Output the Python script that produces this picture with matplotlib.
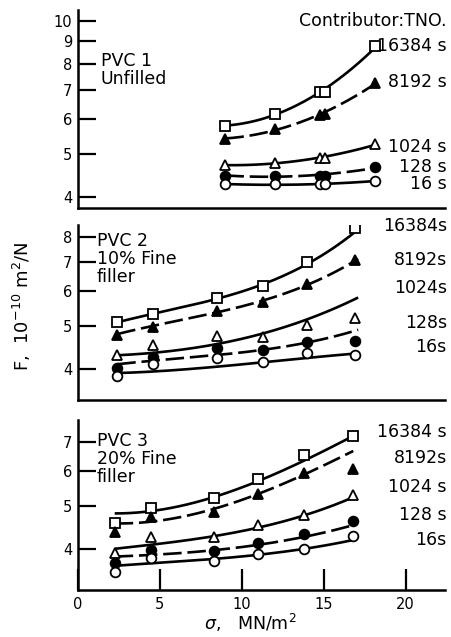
import numpy as np
import matplotlib
matplotlib.use("Agg")
import matplotlib.pyplot as plt
from matplotlib.ticker import FixedLocator, NullLocator

plt.rcParams['font.family'] = ['DejaVu Sans']

# ---- data: creep compliance F (1e-10 m^2/N) vs stress sigma (MN/m^2) ----
times = ["16384", "8192", "1024", "128", "16"]

# PVC 1, unfilled
p1_sigma = [9.0, 12.0, 14.8, 15.1, 18.1]
p1_16384 = [5.79, 6.16, 6.90, 6.90, 8.77]
p1_8192 = [5.41, 5.70, 6.13, 6.16, 7.26]
p1_1024 = [4.72, 4.77, 4.90, 4.90, 5.27]
p1_128 = [4.47, 4.47, 4.47, 4.47, 4.68]
p1_16 = [4.28, 4.28, 4.28, 4.28, 4.36]
p1_curve_sigma = [9.0, 12.0, 15.0, 18.1]
p1_curve_16384 = [5.79, 6.18, 6.95, 8.70]
p1_curve_8192 = [5.41, 5.72, 6.15, 7.22]
p1_curve_1024 = [4.72, 4.78, 4.92, 5.25]
p1_curve_128 = [4.47, 4.47, 4.48, 4.66]
p1_curve_16 = [4.28, 4.27, 4.28, 4.35]

# PVC 2, 10% fine filler
p2_sigma = [2.4, 4.55, 8.5, 11.3, 14.0, 16.9]
p2_16384 = [5.10, 5.33, 5.80, 6.16, 7.02, 8.36]
p2_8192 = [4.76, 4.98, 5.42, 5.69, 6.24, 7.09]
p2_1024 = [4.29, 4.53, 4.74, 4.72, 5.02, 5.22]
p2_128 = [4.01, 4.26, 4.45, 4.40, 4.59, 4.62]
p2_16 = [3.84, 4.09, 4.22, 4.15, 4.34, 4.29]
p2_curve_sigma = [2.4, 4.55, 8.5, 11.3, 14.0, 17.1]
p2_curve_16384 = [5.10, 5.33, 5.80, 6.18, 6.98, 8.30]
p2_curve_8192 = [4.80, 4.99, 5.40, 5.70, 6.22, 7.12]
p2_curve_1024 = [4.29, 4.34, 4.56, 4.80, 5.19, 5.81]
p2_curve_128 = [4.09, 4.17, 4.30, 4.40, 4.60, 4.90]
p2_curve_16 = [3.90, 3.95, 4.03, 4.13, 4.24, 4.33]

# PVC 3, 20% fine filler
p3_sigma = [2.24, 4.43, 8.33, 11.0, 13.8, 16.8]
p3_16384 = [4.59, 4.95, 5.21, 5.75, 6.53, 7.21]
p3_8192 = [4.36, 4.72, 4.85, 5.32, 5.95, 6.08]
p3_1024 = [3.91, 4.25, 4.25, 4.53, 4.78, 5.31]
p3_128 = [3.72, 3.97, 3.96, 4.13, 4.32, 4.62]
p3_16 = [3.54, 3.81, 3.76, 3.90, 4.01, 4.28]
p3_curve_sigma = [2.24, 4.43, 8.33, 11.0, 13.8, 16.8]
p3_curve_16384 = [4.79, 4.93, 5.21, 5.67, 6.41, 7.19]
p3_curve_8192 = [4.54, 4.68, 4.89, 5.29, 5.98, 6.64]
p3_curve_1024 = [4.00, 4.10, 4.26, 4.49, 4.76, 5.24]
p3_curve_128 = [3.84, 3.89, 3.96, 4.10, 4.26, 4.53]
p3_curve_16 = [3.66, 3.72, 3.79, 3.88, 4.01, 4.19]

# ---- styles ----
marker_style = {
    "16384": dict(marker="s", mfc="white", mec="black"),
    "8192": dict(marker="^", mfc="black", mec="black"),
    "1024": dict(marker="^", mfc="white", mec="black"),
    "128": dict(marker="o", mfc="black", mec="black"),
    "16": dict(marker="o", mfc="white", mec="black"),
}
line_style = {
    "16384": "-",
    "8192": (0, (7, 2.2)),
    "1024": "-",
    "128": (0, (7, 2.2)),
    "16": "-",
}

fig = plt.figure(figsize=(4.52, 6.37), dpi=100)
W, H = 452.0, 637.0


def make_axes(left_px, right_px, top_px, bottom_px):
    return fig.add_axes([left_px / W, 1 - bottom_px / H,
                         (right_px - left_px) / W, (bottom_px - top_px) / H])


panels = [
    dict(ax=make_axes(78, 445, 10, 208), ylim=(3.78, 10.59),
         yticks=[4, 5, 6, 7, 8, 9, 10],
         sigma=p1_sigma, vals=[p1_16384, p1_8192, p1_1024, p1_128, p1_16],
         csig=p1_curve_sigma,
         curves=[p1_curve_16384, p1_curve_8192, p1_curve_1024, p1_curve_128, p1_curve_16],
         deg=2,
         labels=["16384 s", "8192 s", "1024 s", "128 s", "16 s"],
         label_y=[0.818, 0.636, 0.308, 0.207, 0.121],
         title="PVC 1\nUnfilled", title_xy=(0.062, 0.79)),
    dict(ax=make_axes(78, 445, 225, 400), ylim=(3.39, 8.51),
         yticks=[4, 5, 6, 7, 8],
         sigma=p2_sigma, vals=[p2_16384, p2_8192, p2_1024, p2_128, p2_16],
         csig=p2_curve_sigma,
         curves=[p2_curve_16384, p2_curve_8192, p2_curve_1024, p2_curve_128, p2_curve_16],
         deg=3,
         labels=["16384s", "8192s", "1024s", "128s", "16s"],
         label_y=[0.995, 0.80, 0.64, 0.44, 0.303],
         title="PVC 2\n10% Fine\nfiller", title_xy=(0.052, 0.96)),
    dict(ax=make_axes(78, 445, 420, 590), ylim=(3.23, 7.84),
         yticks=[4, 5, 6, 7],
         sigma=p3_sigma, vals=[p3_16384, p3_8192, p3_1024, p3_128, p3_16],
         csig=p3_curve_sigma,
         curves=[p3_curve_16384, p3_curve_8192, p3_curve_1024, p3_curve_128, p3_curve_16],
         deg=3,
         labels=["16384 s", "8192s", "1024 s", "128 s", "16s"],
         label_y=[0.929, 0.776, 0.606, 0.441, 0.294],
         title="PVC 3\n20% Fine\nfiller", title_xy=(0.052, 0.93)),
]

for i, p in enumerate(panels):
    ax = p["ax"]
    ax.set_yscale("log")
    ax.set_xlim(0, 22.4)
    ax.set_ylim(*p["ylim"])
    for side in ("top", "right"):
        ax.spines[side].set_visible(False)
    for side in ("left", "bottom"):
        ax.spines[side].set_linewidth(1.8)

    ax.yaxis.set_major_locator(FixedLocator(p["yticks"]))
    ax.yaxis.set_minor_locator(NullLocator())
    ax.set_yticklabels([str(t) for t in p["yticks"]])
    ax.tick_params(axis="y", direction="in", length=13, width=1.6,
                   labelsize=10.5, pad=4)

    if i < 2:
        ax.set_xticks([])
    else:
        ax.set_xticks([0, 5, 10, 15, 20])
        ax.tick_params(axis="x", direction="in", length=15, width=1.6,
                       labelsize=10.5, pad=5)
        ax.tick_params(axis="x", which="minor", length=0)

    for t, vals, curve, lab, ly in zip(times, p["vals"], p["curves"],
                                       p["labels"], p["label_y"]):
        cs = np.array(p["csig"])
        coef = np.polyfit(cs, np.log(curve), p["deg"])
        xs = np.linspace(cs.min(), cs.max(), 200)
        ax.plot(xs, np.exp(np.polyval(coef, xs)), color="black", lw=1.9,
                linestyle=line_style[t], solid_capstyle="butt",
                dash_capstyle="butt", zorder=2)
        ax.plot(p["sigma"], vals, linestyle="none", markersize=7,
                markeredgewidth=1.3, zorder=3, **marker_style[t])
        ax.text(1.005, ly, lab, transform=ax.transAxes, ha="right",
                va="center", fontsize=12.5, clip_on=False)

    ax.text(p["title_xy"][0], p["title_xy"][1], p["title"],
            transform=ax.transAxes, ha="left", va="top", fontsize=12.5,
            linespacing=1.0)

panels[0]["ax"].text(1.005, 0.944, "Contributor:TNO.",
                     transform=panels[0]["ax"].transAxes, ha="right",
                     va="center", fontsize=12.5)

fig.text(22 / W, 1 - 306 / H, r"F,  10$^{-10}$ m$^2$/N", rotation=90,
         ha="center", va="center", fontsize=13)
fig.text(250 / W, 1 - 634 / H, r"$\sigma$,   MN/m$^2$", ha="center",
         va="bottom", fontsize=12.5)

fig.savefig("out.png", dpi=100, facecolor="white")
